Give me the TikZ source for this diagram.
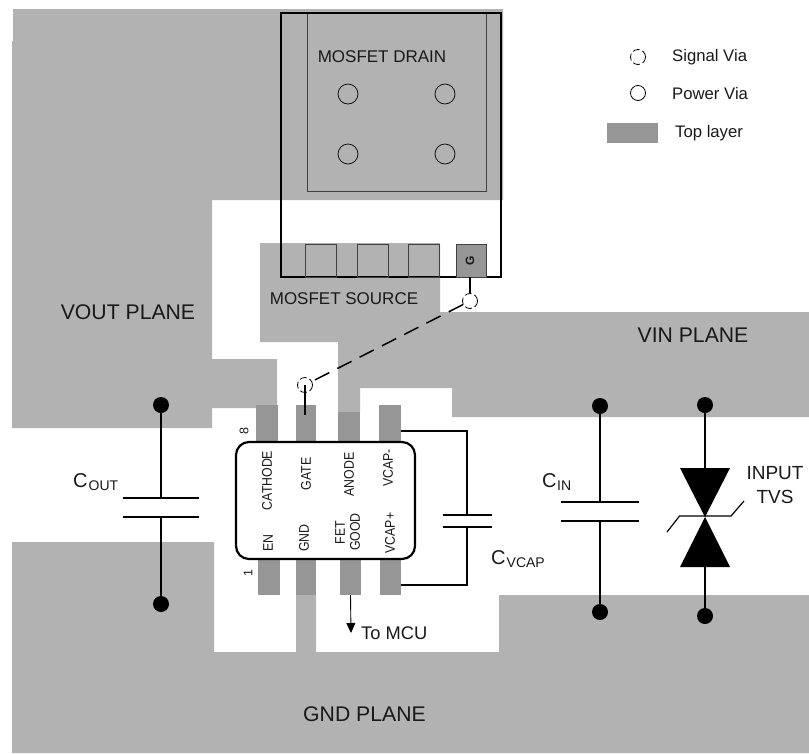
\documentclass[tikz,border=0pt]{standalone}
\usepackage{fontspec}
\setmainfont{Liberation Sans}
\usetikzlibrary{arrows.meta}
\definecolor{plane}{HTML}{B2B2B2}
\definecolor{toplayer}{HTML}{969696}
\newcommand{\fs}[1]{\fontsize{#1}{#1}\selectfont}
\newcommand{\pinname}[1]{\scalebox{0.88}[1]{#1}}
\tikzset{
  planeshape/.style={fill=plane,draw=none},
  padpin/.style={fill=toplayer,draw=none,inner sep=0pt,minimum width=22pt,minimum height=37pt},
  srcpad/.style={draw=black!75,line width=0.9pt,inner sep=0pt,minimum width=31pt,minimum height=33pt},
  drainvia/.style={circle,draw=black,line width=0.7pt,inner sep=0pt,minimum size=20pt},
  sigvia/.style={circle,draw=black,line width=0.8pt,dash pattern=on 7pt off 3pt,inner sep=0pt,minimum size=15pt},
  powvia/.style={circle,draw=black,line width=0.8pt,inner sep=0pt,minimum size=15pt},
  dot/.style={circle,fill=black,inner sep=0pt,minimum size=16pt},
  wire/.style={draw=black,line width=1.5pt},
  plate/.style={draw=black,line width=1.6pt},
  lbl/.style={inner sep=0pt,text=black!90,font=\fs{17}},
  biglbl/.style={inner sep=0pt,text=black!90,font=\fs{21.2}},
  leglbl/.style={anchor=west,inner sep=0pt,text=black!90,font=\fs{16.7}},
  pinlbl/.style={inner sep=0pt,text=black!90,rotate=90,font=\fs{14}}
}
\begin{document}
\begin{tikzpicture}[x=1pt,y=-1pt]
\useasboundingbox (0,0) rectangle (809,753);
% planes
\fill[planeshape] (13,9) -- (503,9) -- (503,200) -- (212,200) -- (212,359) -- (277,359) -- (277,408) -- (212,408) -- (212,428) -- (12,428) -- (12,41) -- (13,41) -- cycle;
\fill[planeshape] (260,243) -- (440,243) -- (440,312) -- (809,312) -- (809,417) -- (452,417) -- (452,388) -- (360,388) -- (360,412) -- (338,412) -- (338,342) -- (260,342) -- cycle;
\fill[planeshape] (12,542) -- (214,542) -- (214,652) -- (296,652) -- (296,595) -- (316,595) -- (316,652) -- (499,652) -- (499,595) -- (809,595) -- (809,753) -- (12,753) -- cycle;
% IC pins
\node[padpin] (pinA) at (267,423.5) {};
\node[padpin,minimum width=20pt] (pinB) at (306,423.5) {};
\node[padpin,minimum height=30pt] (pinC) at (349,427) {};
\node[padpin] (pinD) at (390,423.5) {};
\node[padpin,minimum height=36pt] (pinE) at (269,577) {};
\node[padpin,minimum width=20pt,minimum height=36pt] (pinF) at (306,577) {};
\node[padpin,minimum width=21pt,minimum height=36pt] (pinG) at (350.5,577) {};
\node[padpin,minimum width=21pt,minimum height=36pt] (pinH) at (390.5,577) {};
% IC body
\node[draw=black,line width=2.2pt,fill=white,rounded corners=13pt,inner sep=0pt,minimum width=179pt,minimum height=117pt] (ic) at (325.5,500.5) {};
\node[pinlbl] (tA) at (267,480.5) {\pinname{CATHODE}};
\node[pinlbl] (tB) at (306,474) {\pinname{GATE}};
\node[pinlbl] (tC) at (349,474.5) {\pinname{ANODE}};
\node[pinlbl] (tD) at (388,468) {\pinname{VCAP-}};
\node[pinlbl] (tE) at (268,543) {\pinname{EN}};
\node[pinlbl] (tF) at (304,538) {\pinname{GND}};
\node[pinlbl] (tG) at (340,532.5) {\pinname{FET}};
\node[pinlbl] (tGb) at (355,532) {\pinname{GOOD}};
\node[pinlbl] (tH) at (390,533) {\pinname{VCAP+}};
\node[pinlbl,font=\fs{12.5}] (t8) at (244,431) {8};
\node[pinlbl,font=\fs{12.5}] (t1) at (248,573) {1};
% MOSFET
\node[draw=black!75,line width=0.9pt,inner sep=0pt,minimum width=179pt,minimum height=178pt] (drain) at (396.5,102) {};
\node[draw=black,line width=1.4pt,inner sep=0pt,minimum width=220pt,minimum height=264pt] (fet) at (391,145) {};
\node[lbl] (tdrain) at (382,57) {MOSFET DRAIN};
\node[drainvia] (v1) at (348,94) {};
\node[drainvia] (v2) at (445,94) {};
\node[drainvia] (v3) at (348,154) {};
\node[drainvia] (v4) at (445,154) {};
\node[srcpad] (s1) at (320.5,260.5) {};
\node[srcpad] (s2) at (372.5,260.5) {};
\node[srcpad] (s3) at (423.5,260.5) {};
\node[srcpad,fill=toplayer,minimum width=30pt] (gpad) at (471,260.5) {};
\node[rotate=90,inner sep=0pt,text=black!90,font=\fs{12}\bfseries] (tg) at (470,261) {G};
\node[lbl] (tsource) at (344,299) {MOSFET SOURCE};
% gate routing
\node[sigvia] (va) at (470,301) {};
\node[sigvia] (vb) at (305,385) {};
\coordinate (gwire) at (470,277);
\coordinate (pinwire) at (305,415);
\draw[wire] (gwire) -- (va.north);
\draw[wire] (vb.center) -- (pinwire);
\draw[wire,dash pattern=on 16pt off 9pt] (va) -- (vb);
% labels on planes
\node[biglbl] (tvout) at (128,312) {VOUT PLANE};
\node[biglbl] (tvin) at (693,335) {VIN PLANE};
\node[biglbl] (tgnd) at (364.5,714) {GND PLANE};
% COUT
\node[dot] (d1) at (161,405) {};
\node[dot] (d2) at (161,604) {};
\coordinate (c1a) at (161,498);
\coordinate (c1b) at (161,517);
\draw[wire] (d1) -- (c1a);
\draw[wire] (c1b) -- (d2);
\draw[plate] (123,498) -- (199,498);
\draw[plate] (123,517) -- (199,517);
\node[anchor=base west,inner sep=0pt,text=black!90,font=\fs{20}] (tc1) at (73,487) {C};
\node[anchor=base west,inner sep=0pt,text=black!90,font=\fs{14}] (tc1s) at (88.5,490) {OUT};
% CIN
\node[dot] (d3) at (600,406) {};
\node[dot] (d4) at (600,612) {};
\coordinate (c2a) at (600,502);
\coordinate (c2b) at (600,521);
\draw[wire] (d3) -- (c2a);
\draw[wire] (c2b) -- (d4);
\draw[plate] (561,502) -- (639,502);
\draw[plate] (561,521) -- (639,521);
\node[anchor=base west,inner sep=0pt,text=black!90,font=\fs{20}] (tc2) at (542,487) {C};
\node[anchor=base west,inner sep=0pt,text=black!90,font=\fs{14}] (tc2s) at (557,490) {IN};
% CVCAP
\coordinate (c3p) at (401,431);
\coordinate (c3q) at (467,431);
\coordinate (c3a) at (467,515);
\coordinate (c3b) at (467,527);
\coordinate (c3r) at (467,585);
\coordinate (c3s) at (401,585);
\draw[wire] (c3p) -- (c3q) -- (c3a);
\draw[wire] (c3b) -- (c3r) -- (c3s);
\draw[plate] (443,515) -- (492,515);
\draw[plate] (443,527) -- (492,527);
\node[anchor=base west,inner sep=0pt,text=black!90,font=\fs{20}] (tc3) at (491,564) {C};
\node[anchor=base west,inner sep=0pt,text=black!90,font=\fs{14}] (tc3s) at (506.5,567) {VCAP};
% TVS
\node[dot] (d5) at (705,405) {};
\node[dot] (d6) at (705,616) {};
\coordinate (tvu) at (705,468);
\coordinate (tvl) at (705,567);
\draw[wire] (d5) -- (tvu);
\draw[wire] (tvl) -- (d6);
\fill[black] (680,468) -- (730,468) -- (705,517) -- cycle;
\fill[black] (680,567) -- (730,567) -- (705,517) -- cycle;
\draw[black,line width=1.2pt] (667,532) -- (679.5,516) -- (731,516) -- (744,501);
\node[inner sep=0pt,text=black!90,font=\fs{19}] (tin) at (775,473) {INPUT};
\node[inner sep=0pt,text=black!90,font=\fs{19}] (ttvs) at (775,497) {TVS};
% to MCU
\coordinate (mcu) at (351,633);
\draw[black,line width=0.9pt,-{Triangle[length=10pt,width=9pt]}] (pinG.south) -- (mcu);
\node[anchor=west,inner sep=0pt,text=black!90,font=\fs{18.3}] (tmcu) at (361,633) {To MCU};
% legend
\node[sigvia] (ls) at (638,57) {};
\node[powvia] (lp) at (638,93) {};
\node[fill=toplayer,inner sep=0pt,minimum width=51pt,minimum height=20pt] (lr) at (632.5,133) {};
\node[leglbl] (ts) at (672,57) {Signal Via};
\node[leglbl] (tp) at (672,94) {Power Via};
\node[leglbl] (tt) at (675,133) {Top layer};
\end{tikzpicture}
\end{document}
